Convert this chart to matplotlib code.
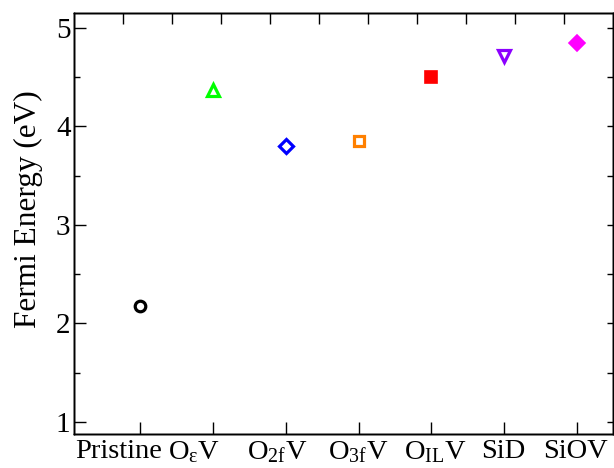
import matplotlib
matplotlib.use("Agg")
import matplotlib.pyplot as plt
from matplotlib.ticker import MultipleLocator, FixedLocator, NullFormatter

plt.rcParams['font.family'] = ['Liberation Serif', 'DejaVu Serif']
plt.rcParams['mathtext.fontset'] = 'custom'
plt.rcParams['mathtext.rm'] = 'Liberation Serif'
plt.rcParams['mathtext.it'] = 'Liberation Serif:italic'

# ---- data ----
categories = ['Pristine', r'O$_{\mathregular{ε}}$V', r'O$_{\mathregular{2f}}$V',
              r'O$_{\mathregular{3f}}$V', r'O$_{\mathregular{IL}}$V', 'SiD', 'SiOV']
fermi_energy = [2.175, 4.365, 3.80, 3.855, 4.50, 4.715, 4.84]
colors = ['#000000', '#00ff00', '#0000ff', '#ff8000', '#ff0000', '#8c00ff', '#ff00ff']
markers = ['o', '^', 'D', 's', 's', 'v', 'D']
filled = [False, False, False, False, True, False, True]
label_shift = [-0.29, -0.26, -0.11, 0.0, 0.05, -0.01, -0.02]  # label centre offsets (layout)

fig = plt.figure(figsize=(6.14, 4.68), dpi=100)
ax = fig.add_axes([74/614, 34.4/468, (612.7-74)/614, (433.6-12.7)/468])

sizes = {'o': 7.6, '^': 8.0, 'D': 7.2, 's': 7.6, 'v': 8.0}
for i, (y, c, m, f) in enumerate(zip(fermi_energy, colors, markers, filled)):
    if f:
        ms = 9.0 if m == 's' else 8.6
        ax.plot(i, y, marker=m, ms=ms, mfc=c, mec=c, mew=1.2, ls='none')
    else:
        ax.plot(i, y, marker=m, ms=sizes[m], mfc='none', mec=c, mew=2.3, ls='none')

ax.set_xlim(-0.906, 6.49)
ax.set_ylim(0.882, 5.152)

# bottom axis: ticks at each category, labels placed at their centres via minor ticks
pos = list(range(len(categories)))
ax.xaxis.remove_overlapping_locs = False
ax.xaxis.set_major_locator(FixedLocator(pos))
ax.xaxis.set_major_formatter(NullFormatter())
ax.xaxis.set_minor_locator(FixedLocator([p + s for p, s in zip(pos, label_shift)]))
ax.set_xticklabels(categories, minor=True)
ax.tick_params(axis='x', which='major', direction='in', length=8.4, width=1.0, top=False)
ax.tick_params(axis='x', which='minor', length=0, pad=4, labelsize=20.5)

# left axis
ax.yaxis.set_major_locator(MultipleLocator(1))
ax.yaxis.set_minor_locator(MultipleLocator(0.5))
ax.tick_params(axis='y', which='major', direction='in', length=8.6, width=1.0, labelsize=21, pad=2.5, right=False)
ax.tick_params(axis='y', which='minor', direction='in', length=4.3, width=1.0, right=False)
ax.set_ylabel('Fermi Energy (eV)', fontsize=22.5)
ax.yaxis.set_label_coords(-0.0575, 0.534)

# top axis ticks
axt = ax.twiny()
axt.set_xlim(0, 11)
axt.xaxis.set_major_locator(FixedLocator(range(1, 11)))
axt.xaxis.set_major_formatter(NullFormatter())
axt.tick_params(axis='x', direction='in', length=7.7, width=1.0, top=True, bottom=False)

# right axis ticks
axr = ax.twinx()
axr.set_ylim(ax.get_ylim())
axr.yaxis.set_major_locator(MultipleLocator(0.5))
axr.yaxis.set_major_formatter(NullFormatter())
axr.tick_params(axis='y', direction='in', length=4.3, width=1.0, right=True, left=False)

for a in (ax, axt, axr):
    for s in a.spines.values():
        s.set_linewidth(1.0)

fig.savefig('out.png', dpi=100)
